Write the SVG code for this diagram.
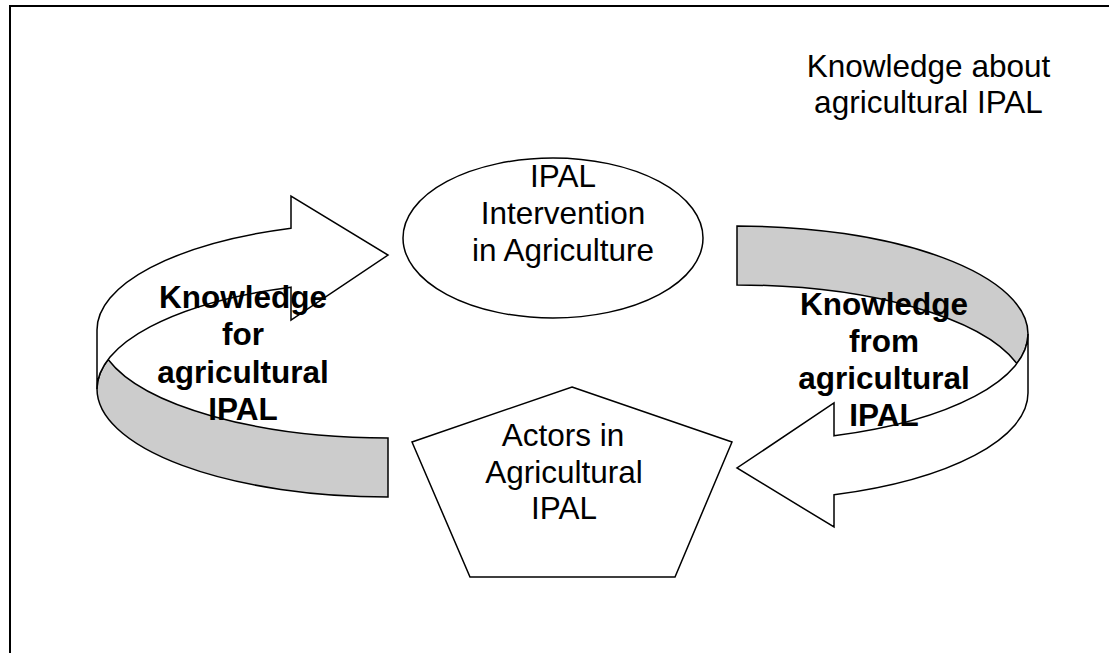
<svg xmlns="http://www.w3.org/2000/svg" width="1109" height="653" viewBox="0 0 1109 653">
<style>
.s{stroke:#000;stroke-width:1.5;stroke-linejoin:miter}
.w{fill:#fff}
.g{fill:#cccccc}
.t{font-family:"Liberation Sans",Arial,sans-serif;font-size:31.5px;fill:#000;text-anchor:middle}
.b{font-weight:bold}
</style>
<defs>
<g id="curvedArrow">
<path class="s g" d="M108.1,359.5 A291,108 0 0 0 388,438 L388,497 A291,108 0 0 1 97,389 A291,108 0 0 1 108.1,359.5 Z"/>
<path class="s w" d="M291,228.2 L291,196 L388,255 L291,320 L291,287.2 A291,108 0 0 0 97,389 L97,330 A291,108 0 0 1 291,228.2 Z"/>
</g>
</defs>
<rect x="0" y="0" width="1109" height="653" fill="#fff"/>
<rect x="10" y="6" width="1200" height="700" fill="none" stroke="#000" stroke-width="2"/>
<g id="connectors">
<g id="arrow-for"><use href="#curvedArrow"/></g>
<g id="arrow-from"><use href="#curvedArrow" transform="rotate(180 562.5 361.5)"/></g>
</g>
<g id="node-intervention">
<ellipse class="s w" cx="553" cy="238" rx="150" ry="80"/>
<text class="t" x="563" y="187">IPAL</text>
<text class="t" x="563" y="224">Intervention</text>
<text class="t" x="563" y="261">in Agriculture</text>
</g>
<g id="node-actors">
<polygon class="s w" points="572,387 732,442 675,577 470,577 412,442"/>
<text class="t" x="563" y="446">Actors in</text>
<text class="t" x="564" y="483">Agricultural</text>
<text class="t" x="564" y="519">IPAL</text>
</g>
<g id="label-for">
<text class="t b" x="243" y="308">Knowledge</text>
<text class="t b" x="243" y="345">for</text>
<text class="t b" x="243" y="383">agricultural</text>
<text class="t b" x="243" y="420">IPAL</text>
</g>
<g id="label-from">
<text class="t b" x="884" y="315">Knowledge</text>
<text class="t b" x="884" y="352">from</text>
<text class="t b" x="884" y="389">agricultural</text>
<text class="t b" x="884" y="426">IPAL</text>
</g>
<g id="label-about">
<text class="t" x="928.5" y="77">Knowledge about</text>
<text class="t" x="928.5" y="113">agricultural IPAL</text>
</g>
</svg>
